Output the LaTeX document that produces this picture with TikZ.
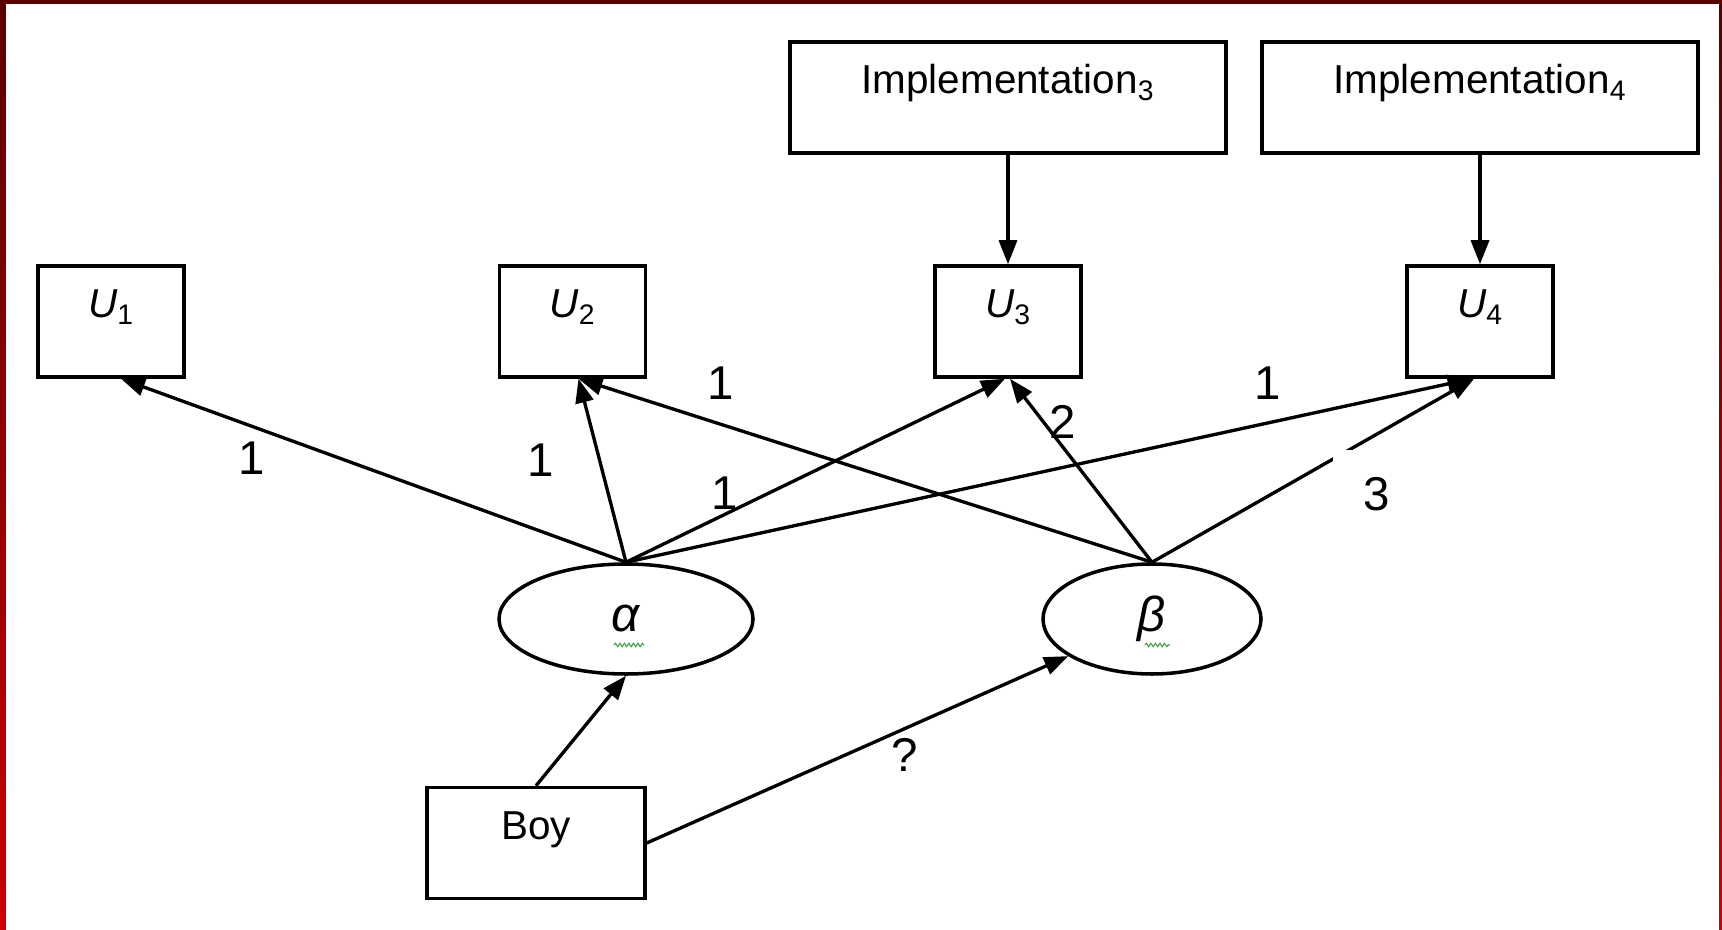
\documentclass[tikz,border=0pt]{standalone}
\usepackage{fontspec}
\setmainfont{Liberation Sans}
\usetikzlibrary{shapes.geometric,arrows.meta,decorations.pathmorphing}

\definecolor{frametop}{HTML}{5A0000}
\definecolor{framebot}{HTML}{CC0000}
\definecolor{spellgreen}{HTML}{3CA03C}

\begin{document}
\begin{tikzpicture}[
  box/.style={draw=black, line width=2pt, rectangle, inner sep=0pt, text height=1.04cm, text depth=1.18cm, font=\fontsize{23}{27}\selectfont},
  ubox/.style={box, minimum width=2.92cm},
  implbox/.style={box, minimum width=8.72cm},
  latent/.style={draw=black, line width=2pt, ellipse, inner sep=0pt, minimum height=2.2cm, font=\fontsize{28}{33}\selectfont\itshape},
  arr/.style={line width=1.9pt, -{Triangle[length=0.48cm,width=0.36cm]}},
  lbl/.style={font=\fontsize{27}{32}\selectfont, inner sep=0pt},
  squiggle/.style={spellgreen, line width=0.6pt, decorate, decoration={snake, amplitude=0.035cm, segment length=0.09cm}}
]
\useasboundingbox (0,0) rectangle (34.44,18.58);
\fill[white] (0,0) rectangle (34.44,18.58);
% frame
\shade[top color=frametop, bottom color=framebot] (0,0) rectangle (0.12,18.58);
\shade[top color=frametop, bottom color=framebot] (34.38,0) rectangle (34.44,18.58);
\fill[frametop] (0,18.50) rectangle (34.44,18.58);

% utilities
\node[ubox] (u1) at (2.22,12.15) {\textit{U}\textsubscript{1}};
\node[ubox] (u2) at (11.45,12.15) {\textit{U}\textsubscript{2}};
\node[ubox] (u3) at (20.16,12.15) {\textit{U}\textsubscript{3}};
\node[ubox] (u4) at (29.60,12.15) {\textit{U}\textsubscript{4}};

\node[implbox] (impl3) at (20.16,16.63) {Implementation\textsubscript{3}};
\node[implbox] (impl4) at (29.60,16.63) {Implementation\textsubscript{4}};

% latent variables
\node[latent, minimum width=5.08cm] (alpha) at (12.52,6.20) {α};
\node[latent, minimum width=4.36cm] (beta) at (23.04,6.20) {β};
\draw[squiggle] ([xshift=-0.24cm,yshift=-0.52cm]alpha.center) -- ++(0.6,0);
\draw[squiggle] ([xshift=-0.14cm,yshift=-0.52cm]beta.center) -- ++(0.5,0);

\node[box, minimum width=4.36cm] (boy) at (10.72,1.72) {Boy};

\draw[arr] (impl3.south) -- (u3.north);
\draw[arr] (impl4.south) -- (u4.north);

\draw[arr] (alpha.north) -- ([xshift=0.2cm]u1.south);
\draw[arr] (alpha.north) -- ([xshift=0.12cm]u2.south);
\draw[arr] (alpha.north) -- ([xshift=-0.06cm]u3.south);
\draw[arr] (alpha.north) -- ([xshift=-0.17cm]u4.south);
\draw[arr] (beta.north) -- ([xshift=0.12cm]u2.south);
\draw[arr] (beta.north) -- ([xshift=0.04cm]u3.south);
\draw[arr] (beta.north) -- ([xshift=-0.12cm]u4.south);

\draw[arr] (boy.north) -- (alpha.south);
\draw[arr] (boy.east) -- (beta);

% loadings
\node[lbl] (la1) at (5.03,9.42) {1};
\node[lbl] (la2) at (10.82,9.38) {1};
\node[lbl] (la3) at (14.50,8.72) {1};
\node[lbl] (la4) at (25.36,10.92) {1};
\node[lbl] (lb2) at (14.42,10.92) {1};
\node[lbl] (lb3) at (21.26,10.14) {2};
\node[lbl, fill=white, minimum size=1.76cm] (lb4) at (27.54,8.70) {3};
\node[lbl] (lboy) at (18.10,3.48) {?};
\end{tikzpicture}
\end{document}
